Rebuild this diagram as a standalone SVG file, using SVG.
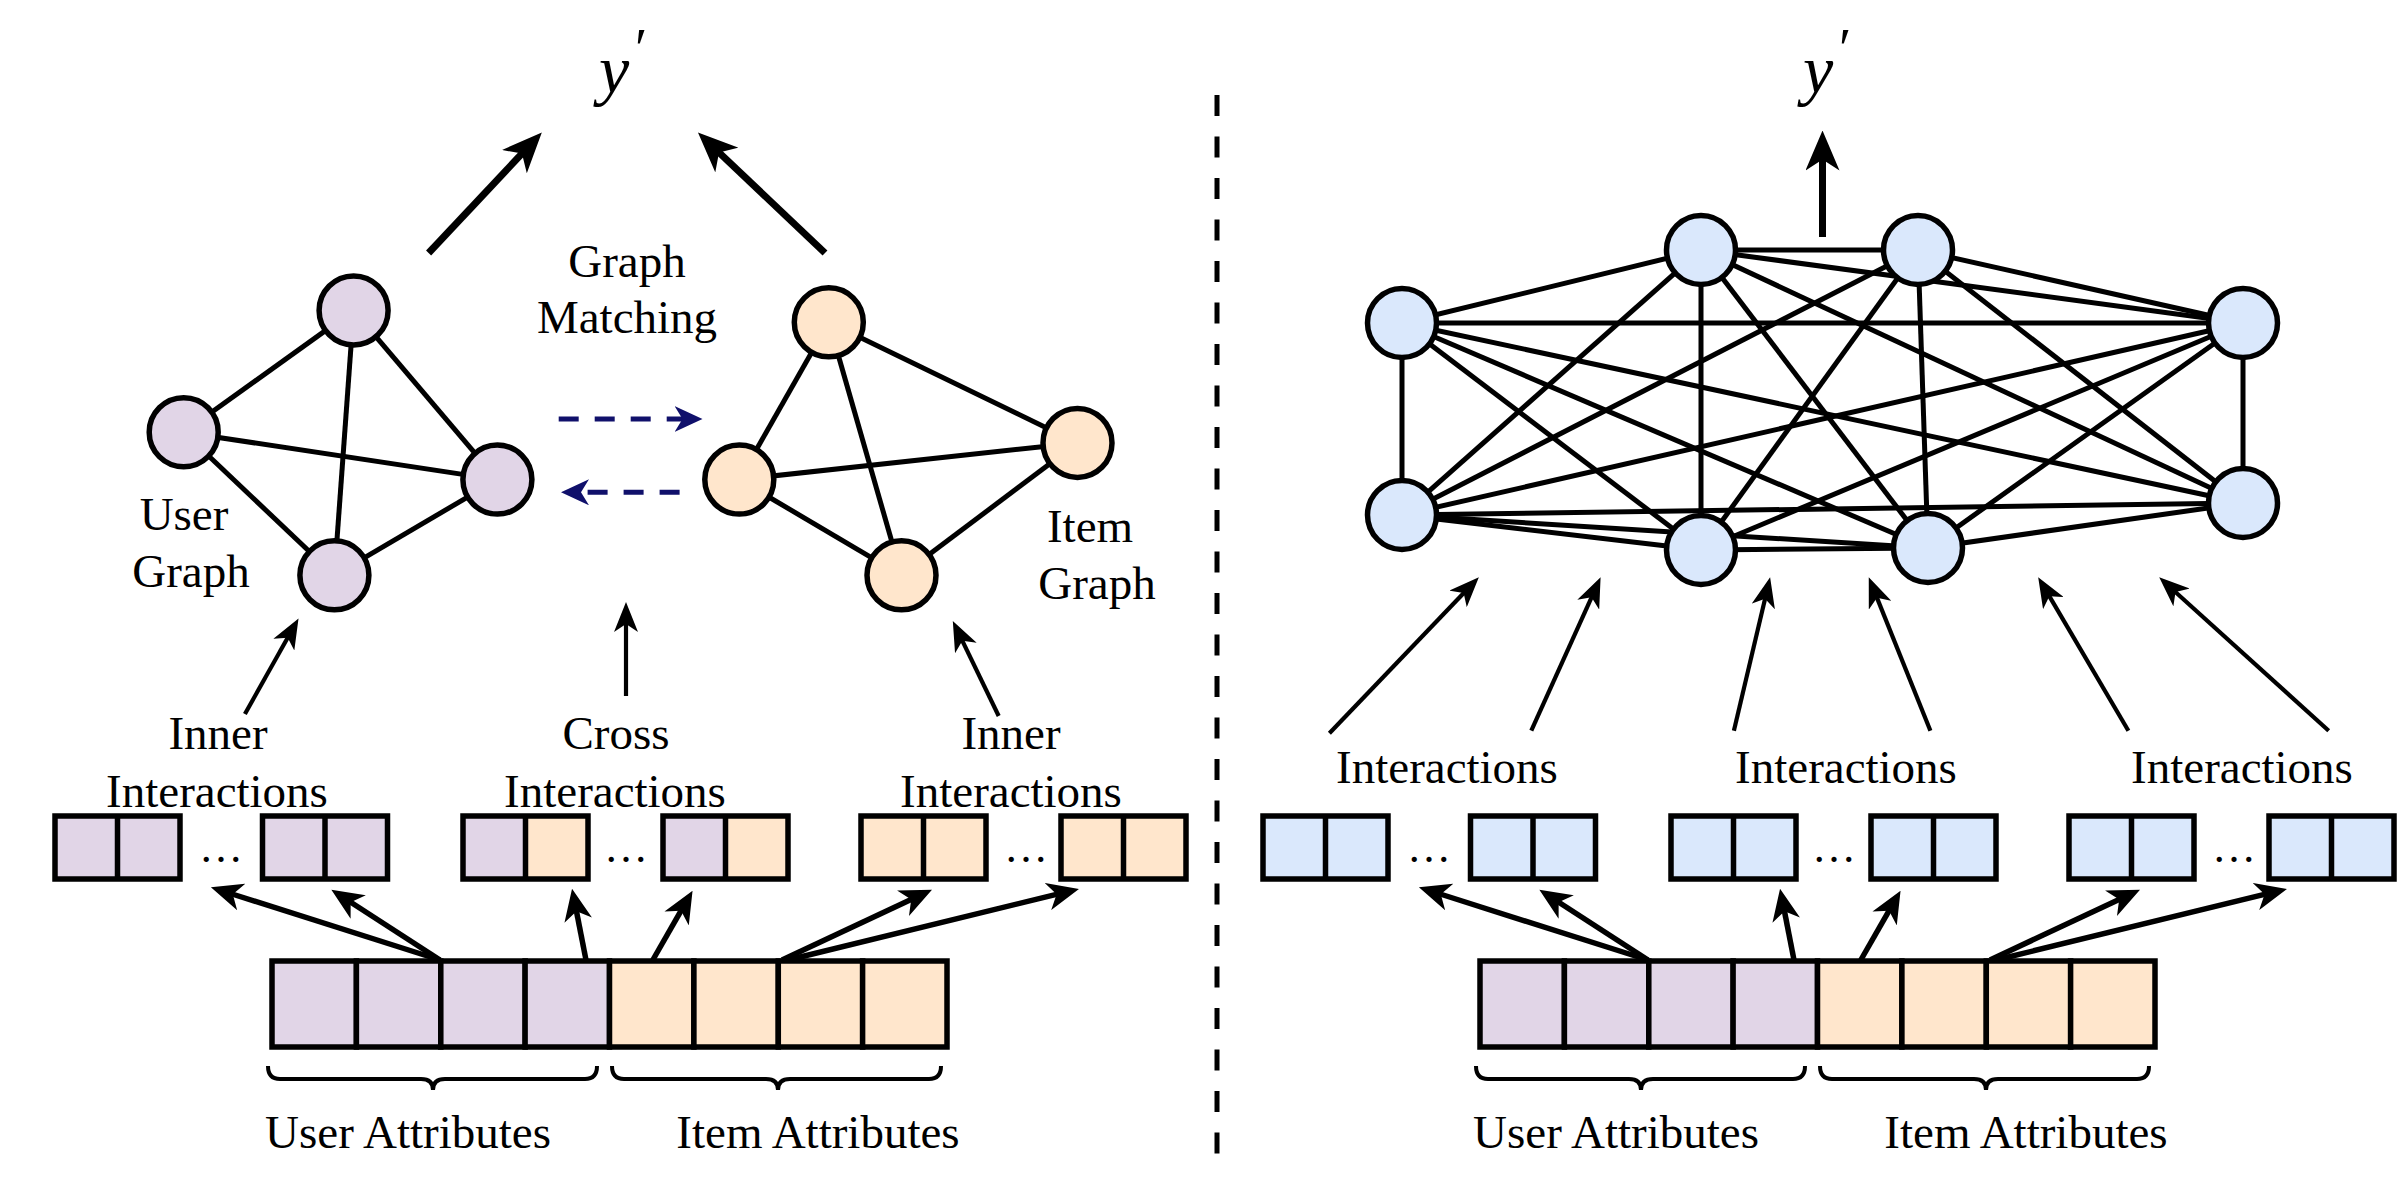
<svg xmlns="http://www.w3.org/2000/svg" width="2408" height="1177" viewBox="0 0 2408 1177">
<style>
text{font-family:"Liberation Serif","Times New Roman",serif;fill:#000}
.lbl{font-size:47px;text-anchor:middle}
.dots{font-size:44px;text-anchor:middle}
.yv{font-size:68px;font-style:italic}
.pr{font-size:56px}
.pu{fill:#e1d5e7}
.or{fill:#ffe6cc}
.bl{fill:#dae8fc}
.cell{stroke:#000;stroke-width:5.5}
.div{stroke:#000;stroke-width:5.5}
.node{stroke:#000;stroke-width:5.5}
.edge{stroke:#000;stroke-width:5;fill:none}
.ath{stroke:#000;stroke-width:7;fill:none;marker-end:url(#aT)}
.atn{stroke:#000;stroke-width:4.2;fill:none;marker-end:url(#aS)}
.atm{stroke:#000;stroke-width:5.5;fill:none;marker-end:url(#aM)}
.nav{stroke:#10106b;stroke-width:5;fill:none;stroke-dasharray:20 16;marker-end:url(#aN)}
.brace{stroke:#000;stroke-width:4;fill:none}
</style>
<defs>
<marker id="aS" markerUnits="userSpaceOnUse" viewBox="0 0 30 24" markerWidth="30" markerHeight="24" refX="13" refY="12" orient="auto"><path d="M0,0 L30,12 L0,24 L8,12 Z" fill="#000"/></marker>
<marker id="aM" markerUnits="userSpaceOnUse" viewBox="0 0 32 28" markerWidth="32" markerHeight="28" refX="13" refY="14" orient="auto"><path d="M0,0 L32,14 L0,28 L9,14 Z" fill="#000"/></marker>
<marker id="aT" markerUnits="userSpaceOnUse" viewBox="0 0 40 34" markerWidth="40" markerHeight="34" refX="15" refY="17" orient="auto"><path d="M0,0 L40,17 L0,34 L11,17 Z" fill="#000"/></marker>
<marker id="aN" markerUnits="userSpaceOnUse" viewBox="0 0 28 26" markerWidth="28" markerHeight="26" refX="10" refY="13" orient="auto"><path d="M0,0 L28,13 L0,26 L8,13 Z" fill="#10106b"/></marker>
<g id="pairP"><rect class="cell pu" x="0" y="0" width="125" height="63"/><line class="div" x1="62.5" y1="0" x2="62.5" y2="63"/></g>
<g id="pairO"><rect class="cell or" x="0" y="0" width="125" height="63"/><line class="div" x1="62.5" y1="0" x2="62.5" y2="63"/></g>
<g id="pairX"><rect class="pu" x="0" y="0" width="62.5" height="63"/><rect class="or" x="62.5" y="0" width="62.5" height="63"/><rect class="cell" fill="none" x="0" y="0" width="125" height="63"/><line class="div" x1="62.5" y1="0" x2="62.5" y2="63"/></g>
<g id="pairB"><rect class="cell bl" x="0" y="0" width="125" height="63"/><line class="div" x1="62.5" y1="0" x2="62.5" y2="63"/></g>
<g id="bar">
<rect class="cell pu" x="0" y="0" width="84.4" height="86"/>
<rect class="cell pu" x="84.4" y="0" width="84.4" height="86"/>
<rect class="cell pu" x="168.8" y="0" width="84.4" height="86"/>
<rect class="cell pu" x="253.1" y="0" width="84.4" height="86"/>
<rect class="cell or" x="337.5" y="0" width="84.4" height="86"/>
<rect class="cell or" x="421.9" y="0" width="84.4" height="86"/>
<rect class="cell or" x="506.3" y="0" width="84.4" height="86"/>
<rect class="cell or" x="590.6" y="0" width="84.4" height="86"/>
</g>
<g id="braces">
<path class="brace" d="M268,1066 Q268,1079 280,1079 H421 Q433,1079 433,1090 Q433,1079 445,1079 H585 Q597,1079 597,1066"/>
<path class="brace" d="M612,1066 Q612,1079 624,1079 H766 Q778,1079 778,1090 Q778,1079 790,1079 H929 Q941,1079 941,1066"/>
</g>
<g id="barArrows">
<line class="atm" x1="440" y1="960" x2="229.0" y2="893.0"/>
<line class="atm" x1="440" y1="960" x2="347.3" y2="900.0"/>
<line class="atm" x1="586" y1="960" x2="575.7" y2="907.4"/>
<line class="atm" x1="652.8" y1="960" x2="683.1" y2="907.2"/>
<line class="atm" x1="782" y1="960" x2="914.8" y2="897.7"/>
<line class="atm" x1="788" y1="960" x2="1060.5" y2="893.4"/>
</g>
</defs>

<!-- separator -->
<line x1="1217" y1="95" x2="1217" y2="1156" stroke="#000" stroke-width="5" stroke-dasharray="21 20.5"/>

<!-- ===== LEFT PANEL ===== -->
<g id="connectors-left">
<line class="edge" x1="353.6" y1="310.4" x2="183.7" y2="432.2"/>
<line class="edge" x1="353.6" y1="310.4" x2="497.4" y2="479.6"/>
<line class="edge" x1="353.6" y1="310.4" x2="334.4" y2="575.3"/>
<line class="edge" x1="183.7" y1="432.2" x2="497.4" y2="479.6" stroke-width="6"/>
<line class="edge" x1="183.7" y1="432.2" x2="334.4" y2="575.3"/>
<line class="edge" x1="334.4" y1="575.3" x2="497.4" y2="479.6"/>
<line class="edge" x1="828.8" y1="322.3" x2="739.3" y2="479.6"/>
<line class="edge" x1="828.8" y1="322.3" x2="1077.5" y2="442.9" stroke-width="6"/>
<line class="edge" x1="828.8" y1="322.3" x2="901.5" y2="575.3"/>
<line class="edge" x1="739.3" y1="479.6" x2="1077.5" y2="442.9" stroke-width="6"/>
<line class="edge" x1="739.3" y1="479.6" x2="901.5" y2="575.3"/>
<line class="edge" x1="901.5" y1="575.3" x2="1077.5" y2="442.9"/>
<line class="ath" x1="428.6" y1="253" x2="524.7" y2="150.7"/>
<line class="ath" x1="825" y1="253" x2="716.1" y2="149.7"/>
<line class="nav" x1="558.7" y1="419" x2="684.5" y2="419"/>
<line class="nav" x1="679.6" y1="492.3" x2="579" y2="492.3"/>
<line class="atn" x1="244.9" y1="714" x2="290.2" y2="633.3"/>
<line class="atn" x1="626" y1="696" x2="626" y2="619"/>
<line class="atn" x1="998.7" y1="716" x2="960.2" y2="636.3"/>
<use href="#barArrows"/>
</g>

<g id="user-graph">
<circle class="node pu" cx="353.6" cy="310.4" r="34.5"/>
<circle class="node pu" cx="183.7" cy="432.2" r="34.5"/>
<circle class="node pu" cx="497.4" cy="479.6" r="34.5"/>
<circle class="node pu" cx="334.4" cy="575.3" r="34.5"/>
</g>
<g id="item-graph">
<circle class="node or" cx="828.8" cy="322.3" r="34.5"/>
<circle class="node or" cx="1077.5" cy="442.9" r="34.5"/>
<circle class="node or" cx="739.3" cy="479.6" r="34.5"/>
<circle class="node or" cx="901.5" cy="575.3" r="34.5"/>
</g>

<g id="y-left"><text class="yv" x="599" y="93">y</text><text class="pr" x="635" y="68">′</text></g>
<g id="lbl-matching"><text class="lbl" x="627" y="277">Graph</text><text class="lbl" x="627" y="333">Matching</text></g>
<g id="lbl-user-graph"><text class="lbl" x="184" y="530">User</text><text class="lbl" x="191" y="587">Graph</text></g>
<g id="lbl-item-graph"><text class="lbl" x="1090" y="542">Item</text><text class="lbl" x="1097" y="599">Graph</text></g>
<g id="lbl-inner-u"><text class="lbl" x="218" y="749">Inner</text><text class="lbl" x="217" y="807">Interactions</text></g>
<g id="lbl-cross"><text class="lbl" x="616" y="749">Cross</text><text class="lbl" x="615" y="807">Interactions</text></g>
<g id="lbl-inner-i"><text class="lbl" x="1011" y="749">Inner</text><text class="lbl" x="1011" y="807">Interactions</text></g>

<g id="inter-left">
<use href="#pairP" x="55" y="816"/>
<use href="#pairP" x="262.5" y="816"/>
<text class="dots" x="221" y="862">…</text>
<use href="#pairX" x="463" y="816"/>
<use href="#pairX" x="663" y="816"/>
<text class="dots" x="626" y="862">…</text>
<use href="#pairO" x="861" y="816"/>
<use href="#pairO" x="1061" y="816"/>
<text class="dots" x="1026" y="862">…</text>
</g>

<g id="attrs-left">
<use href="#bar" x="272" y="961"/>
<use href="#braces"/>
<text class="lbl" x="408" y="1148">User Attributes</text>
<text class="lbl" x="818" y="1148">Item Attributes</text>
</g>

<!-- ===== RIGHT PANEL ===== -->
<g id="connectors-right">
<line class="edge" x1="1701" y1="250" x2="1918" y2="250"/>
<line class="edge" x1="1701" y1="250" x2="1402" y2="323"/>
<line class="edge" x1="1701" y1="250" x2="2243" y2="323"/>
<line class="edge" x1="1701" y1="250" x2="1402" y2="515"/>
<line class="edge" x1="1701" y1="250" x2="1701" y2="550"/>
<line class="edge" x1="1701" y1="250" x2="1928" y2="548"/>
<line class="edge" x1="1701" y1="250" x2="2243" y2="503"/>
<line class="edge" x1="1918" y1="250" x2="2243" y2="323"/>
<line class="edge" x1="1918" y1="250" x2="1402" y2="515"/>
<line class="edge" x1="1918" y1="250" x2="1701" y2="550"/>
<line class="edge" x1="1918" y1="250" x2="1928" y2="548"/>
<line class="edge" x1="1918" y1="250" x2="2243" y2="503"/>
<line class="edge" x1="1402" y1="323" x2="2243" y2="323"/>
<line class="edge" x1="1402" y1="323" x2="1402" y2="515"/>
<line class="edge" x1="1402" y1="323" x2="1701" y2="550"/>
<line class="edge" x1="1402" y1="323" x2="1928" y2="548"/>
<line class="edge" x1="1402" y1="323" x2="2243" y2="503"/>
<line class="edge" x1="2243" y1="323" x2="1402" y2="515"/>
<line class="edge" x1="2243" y1="323" x2="1701" y2="550"/>
<line class="edge" x1="2243" y1="323" x2="1928" y2="548"/>
<line class="edge" x1="2243" y1="323" x2="2243" y2="503"/>
<line class="edge" x1="1402" y1="515" x2="1701" y2="550"/>
<line class="edge" x1="1402" y1="515" x2="1928" y2="548"/>
<line class="edge" x1="1402" y1="515" x2="2243" y2="503"/>
<line class="edge" x1="2243" y1="503" x2="1928" y2="548"/>
<line class="edge" x1="1701" y1="550" x2="1928" y2="548"/>
<line class="ath" x1="1822.5" y1="237" x2="1822.5" y2="155.5"/>
<line class="atn" x1="1329.4" y1="733.2" x2="1467.1" y2="589.5"/>
<line class="atn" x1="1531.3" y1="730.7" x2="1593.6" y2="592.8"/>
<line class="atn" x1="1733.9" y1="730.7" x2="1766.2" y2="593.9"/>
<line class="atn" x1="1930.4" y1="730.7" x2="1875.1" y2="593.1"/>
<line class="atn" x1="2128.4" y1="730.7" x2="2046.8" y2="591.9"/>
<line class="atn" x1="2328.7" y1="730.7" x2="2171.8" y2="588.7"/>
<use href="#barArrows" x="1208"/>
</g>

<g id="full-graph">
<circle class="node bl" cx="1701" cy="250" r="34.5"/>
<circle class="node bl" cx="1918" cy="250" r="34.5"/>
<circle class="node bl" cx="1402" cy="323" r="34.5"/>
<circle class="node bl" cx="2243" cy="323" r="34.5"/>
<circle class="node bl" cx="1402" cy="515" r="34.5"/>
<circle class="node bl" cx="2243" cy="503" r="34.5"/>
<circle class="node bl" cx="1701" cy="550" r="34.5"/>
<circle class="node bl" cx="1928" cy="548" r="34.5"/>
</g>

<g id="y-right"><text class="yv" x="1803" y="93">y</text><text class="pr" x="1839" y="68">′</text></g>
<g id="lbl-int-r">
<text class="lbl" x="1447" y="783">Interactions</text>
<text class="lbl" x="1846" y="783">Interactions</text>
<text class="lbl" x="2242" y="783">Interactions</text>
</g>

<g id="inter-right">
<use href="#pairB" x="1263" y="816"/>
<use href="#pairB" x="1470.5" y="816"/>
<text class="dots" x="1429" y="862">…</text>
<use href="#pairB" x="1671" y="816"/>
<use href="#pairB" x="1871" y="816"/>
<text class="dots" x="1834" y="862">…</text>
<use href="#pairB" x="2069" y="816"/>
<use href="#pairB" x="2269" y="816"/>
<text class="dots" x="2234" y="862">…</text>
</g>

<g id="attrs-right">
<use href="#bar" x="1480" y="961"/>
<use href="#braces" x="1208"/>
<text class="lbl" x="1616" y="1148">User Attributes</text>
<text class="lbl" x="2026" y="1148">Item Attributes</text>
</g>
</svg>
